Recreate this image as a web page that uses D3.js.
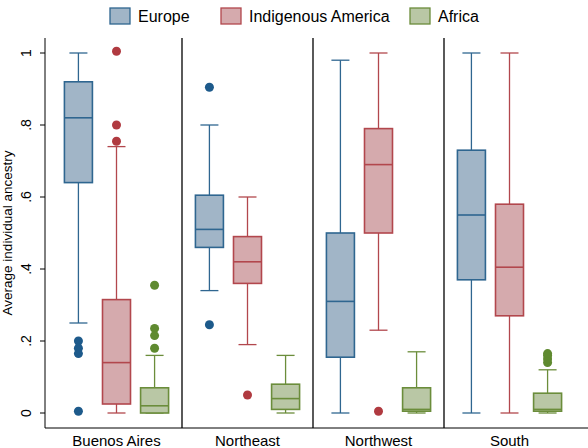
<!DOCTYPE html>
<html><head><meta charset="utf-8">
<script src="https://cdn.jsdelivr.net/npm/d3@7"></script>
<style>body{margin:0;background:#fff}text{font-family:"Liberation Sans",Arial,sans-serif}</style>
</head><body>
<script>
var regions = ["Buenos Aires","Northeast","Northwest","South"]
var series = ["Europe","Indigenous America","Africa"]
var fills = ["#a1b5c7","#d5aaad","#b9c7a5"]
var strokes = ["#2f6690","#b2474d","#6b8d3b"]
var dots = ["#1d5a8b","#b03a40","#5f8a30"]
// [low whisker, q1, median, q3, high whisker]
var stats = [
  [[.25,.64,.82,.92,1],[0,.025,.14,.315,.74],[0,0,.02,.07,.16]],
  [[.34,.46,.51,.605,.80],[.19,.36,.42,.49,.60],[0,.01,.04,.08,.16]],
  [[0,.155,.31,.50,.98],[.23,.50,.69,.79,1],[0,.005,.01,.07,.17]],
  [[0,.37,.55,.73,1],[0,.27,.405,.58,1],[0,.005,.01,.055,.12]]
]
var outliers = [
  [[.2,.18,.165,.005],[1.005,.80,.755],[.355,.235,.215,.18]],
  [[.905,.245],[.05],[]],
  [[],[.005],[]],
  [[],[],[.14,.15,.16,.165]]
]
var yTicks = [0,.2,.4,.6,.8,1]

var W = 588, H = 448
var svg = d3.select("body").append("svg").attr("width",W).attr("height",H)
var x0 = 45, x1 = 588, yb = 428
var y = d3.scaleLinear().domain([0,1]).range([413,53])
var xr = d3.scaleBand().domain(regions).range([51,575])
var xs = d3.scalePoint().domain(series).range([0,xr.bandwidth()]).padding(0.72)
var bw = 28

// axes
svg.append("line").attr("x1",x0).attr("x2",x0).attr("y1",38).attr("y2",yb).attr("stroke","#000")
svg.append("line").attr("x1",x0).attr("x2",x1).attr("y1",yb).attr("y2",yb).attr("stroke","#000")
yTicks.forEach(function(t){
  svg.append("line").attr("x1",x0-5).attr("x2",x0).attr("y1",y(t)).attr("y2",y(t)).attr("stroke","#000")
  svg.append("text").attr("transform","translate(31,"+y(t)+") rotate(-90)")
    .attr("text-anchor","middle").style("font-size","14px")
    .text(t==0?"0":t==1?"1":d3.format(".1f")(t).replace(/^0/,""))
})
svg.append("text").attr("transform","translate(12,"+y(.5)+") rotate(-90)")
  .attr("text-anchor","middle").style("font-size","13.5px").text("Average individual ancestry")

regions.forEach(function(r,ri){
  var px = xr(r)
  if (ri>0) svg.append("line").attr("x1",px).attr("x2",px).attr("y1",38).attr("y2",yb).attr("stroke","#000").attr("stroke-width",1.3)
  svg.append("text").attr("x",px+xr.bandwidth()/2).attr("y",446).attr("text-anchor","middle")
    .style("font-size","15px").text(r)
  series.forEach(function(s,si){
    var st = stats[ri][si], cx = px + xs(s), g = svg.append("g")
    g.append("line").attr("x1",cx).attr("x2",cx).attr("y1",y(st[0])).attr("y2",y(st[4])).attr("stroke",strokes[si]).attr("stroke-width",1.3)
    ;[st[0],st[4]].forEach(function(v){
      g.append("line").attr("x1",cx-9).attr("x2",cx+9).attr("y1",y(v)).attr("y2",y(v)).attr("stroke",strokes[si]).attr("stroke-width",1.3)
    })
    g.append("rect").attr("x",cx-bw/2).attr("width",bw).attr("y",y(st[3])).attr("height",y(st[1])-y(st[3]))
      .attr("fill",fills[si]).attr("stroke",strokes[si]).attr("stroke-width",1.6)
    g.append("line").attr("x1",cx-bw/2).attr("x2",cx+bw/2).attr("y1",y(st[2])).attr("y2",y(st[2])).attr("stroke",strokes[si]).attr("stroke-width",1.6)
    outliers[ri][si].forEach(function(v){
      g.append("circle").attr("cx",cx).attr("cy",y(v)).attr("r",4.5).attr("fill",dots[si])
    })
  })
})

// legend
var lx = [110,221,410]
series.forEach(function(s,i){
  svg.append("rect").attr("x",lx[i]).attr("y",8).attr("width",20).attr("height",16)
    .attr("fill",fills[i]).attr("stroke",strokes[i]).attr("stroke-width",1.3)
  svg.append("text").attr("x",lx[i]+28).attr("y",22).style("font-size","16px").text(s)
})
</script>
</body></html>
